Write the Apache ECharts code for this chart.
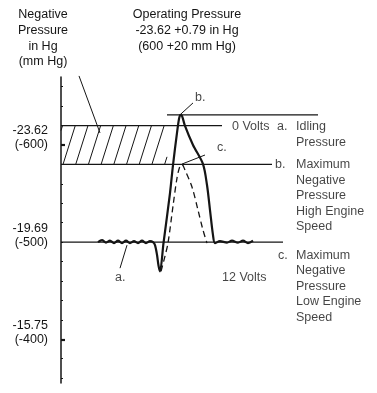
<!DOCTYPE html>
<html><head><meta charset="utf-8">
<script src="https://cdn.jsdelivr.net/npm/echarts@6/dist/echarts.min.js"></script>
<style>html,body{margin:0;padding:0;background:#fff}#c{width:377px;height:393px}</style>
</head><body><div id="c"></div>
<script>
// ---- data (x: time units, y: pressure in mm Hg) ----
const yTickMm = [-600, -500, -400];
const yTickIn = ['-23.62', '-19.69', '-15.75'];
const yMinorTicks = [-660,-640,-620,-600,-580,-560,-540,-520,-500,-480,-460,-440,-420,-400,-380,-360];
const yMajorTicks = [-600, -400];

// high engine speed trace (solid)
const solidX = [37,41,45,49,53,57,61,65,69,73,77,81,85,89,92,94,96,97.5,99,102.5,109,112,116,118,119.5,121,124,132,142,146,149,152,154,159,166,171,177,182,187,192];
const solidY = [-500,-502,-499.5,-501.5,-499,-501.5,-499,-501.5,-499,-501,-499,-501.5,-499,-501,-500,-497,-487,-476,-470,-499,-550.5,-579.4,-612.4,-626.8,-631,-630,-619.6,-600,-580.4,-558.8,-533,-507.2,-499,-501,-499.5,-501.5,-499.5,-501.5,-499,-501.5];
// low engine speed trace (dashed)
const dashX = [100,104,107,112,116,119,121,124,131,137,142,146];
const dashY = [-470,-485.6,-499,-537.1,-566,-578.4,-579.9,-574.2,-556.7,-533,-512.4,-499];

// operating pressure band 600 +/- 20 mm Hg
const bandX = [0, 106];
const bandY = [-620, -580];

// horizontal reference levels
const refY  = [-631, -620, -580, -500];
const refX0 = [106, 0, 0, 0];
const refX1 = [257, 161, 211, 222];

// leader lines [x0,y0,x1,y1]
const leaders = [
  [120,-632,132,-643.3],
  [121,-580.4,144,-589.7],
  [66,-496.9,59,-473.2],
  [18,-671.1,39,-612.4]
];

// annotations
const annoText = ['0 Volts','a.','Idling\nPressure','b.','Maximum\nNegative\nPressure\nHigh Engine\nSpeed','c.','Maximum\nNegative\nPressure\nLow Engine\nSpeed','12 Volts','a.','b.','c.'];
const annoX = [171, 216, 235, 214, 235, 217, 235, 161, 54, 134, 156];
const annoY = [-618.6,-618.6,-618.6,-579.4,-579.4,-486.6,-486.6,-463.9,-463.9,-648.5,-596.9];

// ---- chart ----
const FONT = 'Liberation Sans';
const FS = 12.5;
const INK = '#151515';
const chart = echarts.init(document.getElementById('c'), null, {renderer:'canvas'});

const series = [];
series.push({
  type:'custom', silent:true, clip:false, z:1,
  data:[[bandX[0], bandX[1], bandY[0], bandY[1]]],
  renderItem(params, api){
    const p0 = api.coord([api.value(0), api.value(2)]);
    const p1 = api.coord([api.value(1), api.value(3)]);
    const left = Math.min(p0[0],p1[0]), right = Math.max(p0[0],p1[0]);
    const top = Math.min(p0[1],p1[1]), bottom = Math.max(p0[1],p1[1]);
    const h = bottom - top, slant = h*12/38, step = 12.7;
    const children = [];
    for (let xb = left + 2 - step; xb < right; xb += step){
      let x1 = xb, y1 = bottom, x2 = xb + slant, y2 = top;
      if (x1 < left){ const t = (left-x1)/slant; x1 = left; y1 = bottom - t*h; }
      if (x2 > right){ const t = (right-xb)/slant; x2 = right; y2 = bottom - t*h; }
      if (x2 <= x1) continue;
      children.push({type:'line', shape:{x1,y1,x2,y2}, style:{stroke:INK, lineWidth:1}});
    }
    return {type:'group', children};
  }
});
refY.forEach((y,i)=>{
  series.push({type:'line', silent:true, clip:false, symbol:'none', z:2,
    data:[[refX0[i], y],[refX1[i], y]], lineStyle:{color:INK, width:1.2}});
});
leaders.forEach(l=>{
  series.push({type:'line', silent:true, clip:false, symbol:'none', z:2,
    data:[[l[0],l[1]],[l[2],l[3]]], lineStyle:{color:INK, width:1}});
});
series.push({type:'line', silent:true, clip:false, symbol:'none', z:4, smooth:0.3,
  data:solidX.map((x,i)=>[x, solidY[i]]), lineStyle:{color:INK, width:2.2}});
series.push({type:'line', silent:true, clip:false, symbol:'none', z:3, smooth:0.3,
  data:dashX.map((x,i)=>[x, dashY[i]]), lineStyle:{color:INK, width:1.3, type:[6,4]}});
series.push({type:'scatter', silent:true, clip:false, symbolSize:0, z:5,
  data:annoText.map((t,i)=>({name:t, value:[annoX[i], annoY[i]]})),
  label:{show:true, position:[0,0], formatter:'{b}', align:'left', verticalAlign:'top',
    offset:[0,-7.75], fontFamily:FONT, fontSize:FS, lineHeight:15.5, color:INK}});

const yBase = {type:'value', inverse:true, min:-670, max:-355, splitLine:{show:false}};
chart.setOption({
  animation:false,
  grid:{left:61, top:77, width:257, height:306},
  xAxis:{type:'value', min:0, max:257, show:false},
  yAxis:[
    Object.assign({}, yBase, {
      position:'left',
      axisLine:{show:true, lineStyle:{color:INK, width:1.5}},
      axisTick:{show:true, inside:true, length:2, customValues:yMinorTicks, lineStyle:{color:INK, width:1}},
      axisLabel:{show:true, customValues:yTickMm, margin:13, align:'right', verticalAlign:'middle',
        fontFamily:FONT, fontSize:FS, lineHeight:14, color:INK,
        formatter:(v)=>{const i = yTickMm.indexOf(v); return yTickIn[i] + '\n(' + v + ')\n ';}}
    }),
    Object.assign({}, yBase, {
      position:'left', offset:0,
      axisLine:{show:false},
      axisTick:{show:true, inside:true, length:4, customValues:yMajorTicks, lineStyle:{color:INK, width:2.2}},
      axisLabel:{show:false}
    })
  ],
  graphic:[
    {type:'text', x:43, y:7, silent:true, style:{text:'Negative\nPressure\nin Hg\n(mm Hg)', align:'center', verticalAlign:'top', lineHeight:15.7, fontFamily:FONT, fontSize:FS, fill:INK}},
    {type:'text', x:187, y:7, silent:true, style:{text:'Operating Pressure\n-23.62 +0.79 in Hg\n(600 +20 mm Hg)', align:'center', verticalAlign:'top', lineHeight:15.7, fontFamily:FONT, fontSize:FS, fill:INK}}
  ],
  series
});
</script>
</body></html>
